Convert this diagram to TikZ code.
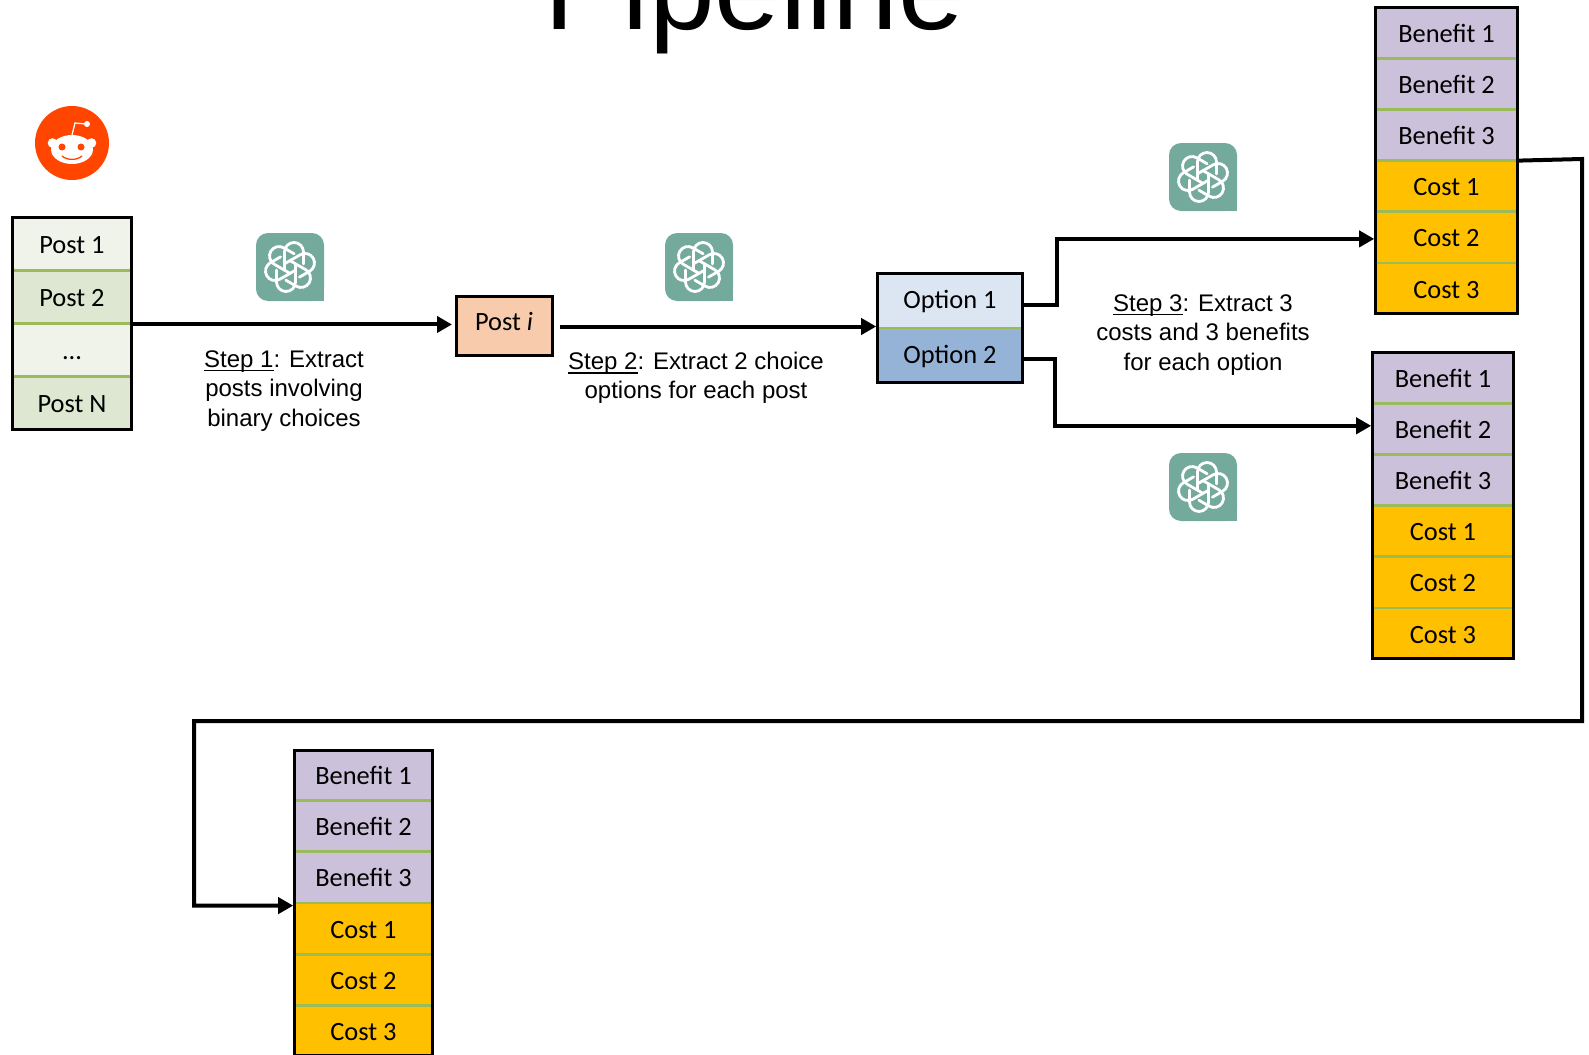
\documentclass[tikz,border=0pt]{standalone}
\usepackage{fontspec}
\setmainfont{Carlito}
\newfontfamily\arialfont{Liberation Sans}
\usetikzlibrary{arrows.meta,fit,positioning}

\definecolor{postlight}{HTML}{EFF3EA}
\definecolor{postdark}{HTML}{DEE7D1}
\definecolor{rowline}{HTML}{9BBB59}
\definecolor{benefitfill}{HTML}{CCC1DA}
\definecolor{costfill}{HTML}{FFC000}
\definecolor{optlight}{HTML}{DCE6F2}
\definecolor{optdark}{HTML}{95B3D7}
\definecolor{postifill}{HTML}{F8CBAD}
\definecolor{gptfill}{HTML}{74AA9C}
\definecolor{redditfill}{HTML}{FF4500}

\newcommand{\stepname}[1]{\setbox0\hbox{#1}\rlap{\rule[-4pt]{\wd0}{1.2pt}}\box0}

\tikzset{
  gptlogo/.pic={
    \fill[gptfill,rounded corners=12pt] (-34,-34) rectangle (34,34);
    \fill[gptfill] (10,10) rectangle (34,34);
    \foreach \a in {0,60,...,300}
      \draw[white,line width=2.8pt,line cap=round,rotate=\a]
        (5.5,-3.2) -- (5.5,15) arc[start angle=0,end angle=180,radius=9.5] -- (-13.5,3);
  }
}

\begin{document}
\begin{tikzpicture}[x=1pt,y=-1pt,>={Triangle[length=15pt,width=16pt]},
  node distance=0pt,
  rowbox/.style={inner sep=0pt,outer sep=0pt,
    font=\fontsize{26.4}{30}\selectfont,text height=19pt,text depth=0pt,
    minimum height=51.2pt},
  postrow/.style={rowbox,minimum width=120pt,minimum height=53.25pt},
  benefitrow/.style={rowbox,fill=benefitfill},
  costrow/.style={rowbox,fill=costfill},
  optrow/.style={rowbox,minimum width=146pt,minimum height=55pt,text height=15pt},
  rowsep/.style={draw=rowline,line width=2.8pt},
  frame/.style={draw,line width=3.2pt,inner sep=-0.8pt},
  steptext/.style={align=center,inner sep=0pt,
    font=\arialfont\fontsize{24}{29.4}\selectfont},
  conn/.style={->,line width=4pt}]

  \useasboundingbox (0,0) rectangle (1589,1054);

  \node[anchor=base west,inner sep=0pt,font=\arialfont\fontsize{118}{120}\selectfont]
    (title) at (544,30) {Pipeline};

  % reddit logo
  \fill[redditfill] (72,143) circle[radius=37];
  \fill[white] (72,149.5) ellipse[x radius=21,y radius=14.5];
  \fill[white] (52.5,143) circle[radius=4.8] (91.5,143) circle[radius=4.8];
  \fill[redditfill] (62,147) circle[radius=3.5] (81,147) circle[radius=3.5];
  \draw[redditfill,line width=1.3pt] (62,156) .. controls (67,160.5) and (77,160.5) .. (82,156);
  \draw[white,line width=1.3pt] (72,135) -- (75,123) -- (86,124);
  \fill[white] (87,124) circle[radius=3];

  % posts
  \node[postrow,fill=postlight] (p1) at (72,243.6) {Post 1};
  \node[postrow,fill=postdark] (p2) [below=of p1] {Post 2};
  \node[postrow,fill=postlight] (p3) [below=of p2] {...};
  \node[postrow,fill=postdark] (p4) [below=of p3] {Post N};

  \node[draw,line width=3pt,fill=postifill,inner sep=0pt,minimum width=96pt,minimum height=59pt,
    font=\fontsize{26.4}{30}\selectfont,text height=9pt,text depth=0pt]
    (posti) at (504,325.5) {Post \textit{i}};

  % options
  \node[optrow,fill=optlight] (opt1) at (950,300.5) {Option 1};
  \node[optrow,fill=optdark] (opt2) [below=of opt1] {Option 2};

  % upper stack
  \begin{scope}[rowbox/.append style={minimum width=143pt}]
    \node[benefitrow] (b11) at (1446.5,32.6) {Benefit 1};
    \node[benefitrow] (b12) [below=of b11] {Benefit 2};
    \node[benefitrow] (b13) [below=of b12] {Benefit 3};
    \node[costrow] (c11) [below=of b13] {Cost 1};
    \node[costrow] (c12) [below=of c11] {Cost 2};
    \node[costrow] (c13) [below=of c12] {Cost 3};
  \end{scope}

  % lower stack
  \begin{scope}[rowbox/.append style={minimum width=142pt}]
    \node[benefitrow] (b21) at (1443,377.6) {Benefit 1};
    \node[benefitrow] (b22) [below=of b21] {Benefit 2};
    \node[benefitrow] (b23) [below=of b22] {Benefit 3};
    \node[costrow] (c21) [below=of b23] {Cost 1};
    \node[costrow] (c22) [below=of c21] {Cost 2};
    \node[costrow] (c23) [below=of c22] {Cost 3};
  \end{scope}

  % bottom stack
  \begin{scope}[rowbox/.append style={minimum width=139pt}]
    \node[benefitrow] (b31) at (363.5,775) {Benefit 1};
    \node[benefitrow] (b32) [below=of b31] {Benefit 2};
    \node[benefitrow] (b33) [below=of b32] {Benefit 3};
    \node[costrow] (c31) [below=of b33] {Cost 1};
    \node[costrow] (c32) [below=of c31] {Cost 2};
    \node[costrow] (c33) [below=of c32] {Cost 3};
  \end{scope}

  % lines between rows
  \foreach \r in {p1,p2,p3,opt1,b11,b12,b13,c11,c12,b21,b22,b23,c21,c22,b31,b32,b33,c31,c32}
    \draw[rowsep] (\r.south west) -- (\r.south east);

  \node[frame,fit=(p1)(p4)] (postlist) {};
  \node[frame,fit=(opt1)(opt2)] (optlist) {};
  \node[frame,fit=(b11)(c13)] (stackone) {};
  \node[frame,fit=(b21)(c23)] (stacktwo) {};
  \node[frame,fit=(b31)(c33)] (stackthree) {};

  % step labels
  \node[steptext] (step1) at (284,391) {\stepname{Step 1}: Extract\\posts involving\\binary choices};
  \node[steptext] (step2) at (696,378) {\stepname{Step 2}: Extract 2 choice\\options for each post};
  \node[steptext] (step3) at (1203,335) {\stepname{Step 3}: Extract 3\\costs and 3 benefits\\for each option};

  % gpt logos
  \pic at (290,267) {gptlogo};
  \pic at (699,267) {gptlogo};
  \pic at (1203,177) {gptlogo};
  \pic at (1203,487) {gptlogo};

  \coordinate (loopne) at (1582,159);
  \coordinate (loopse) at (1582,721);
  \coordinate (loopsw) at (194,721);

  \draw[conn,shorten >=2.5pt] ([yshift=-1pt]postlist.east) -- ([yshift=-1pt]postlist.east -| posti.west);
  \draw[conn,shorten <=6pt] ([yshift=-1pt]posti.east) -- ([yshift=-1pt]posti.east -| optlist.west);
  \draw[conn] ([yshift=-4.5pt]opt1.east) -- ++(34,0) |- ([yshift=-1.5pt]c12.west -| stackone.west);
  \draw[conn] ([yshift=-3pt]opt2.east) -- ++(32,0) |- ([yshift=3pt]b22.west -| stacktwo.west);
  \draw[conn] (stackone.east |- b13.south) -- (loopne) -- (loopse) -- (loopsw)
    |- ([yshift=-2.6pt]c31.north -| stackthree.west);
\end{tikzpicture}
\end{document}
